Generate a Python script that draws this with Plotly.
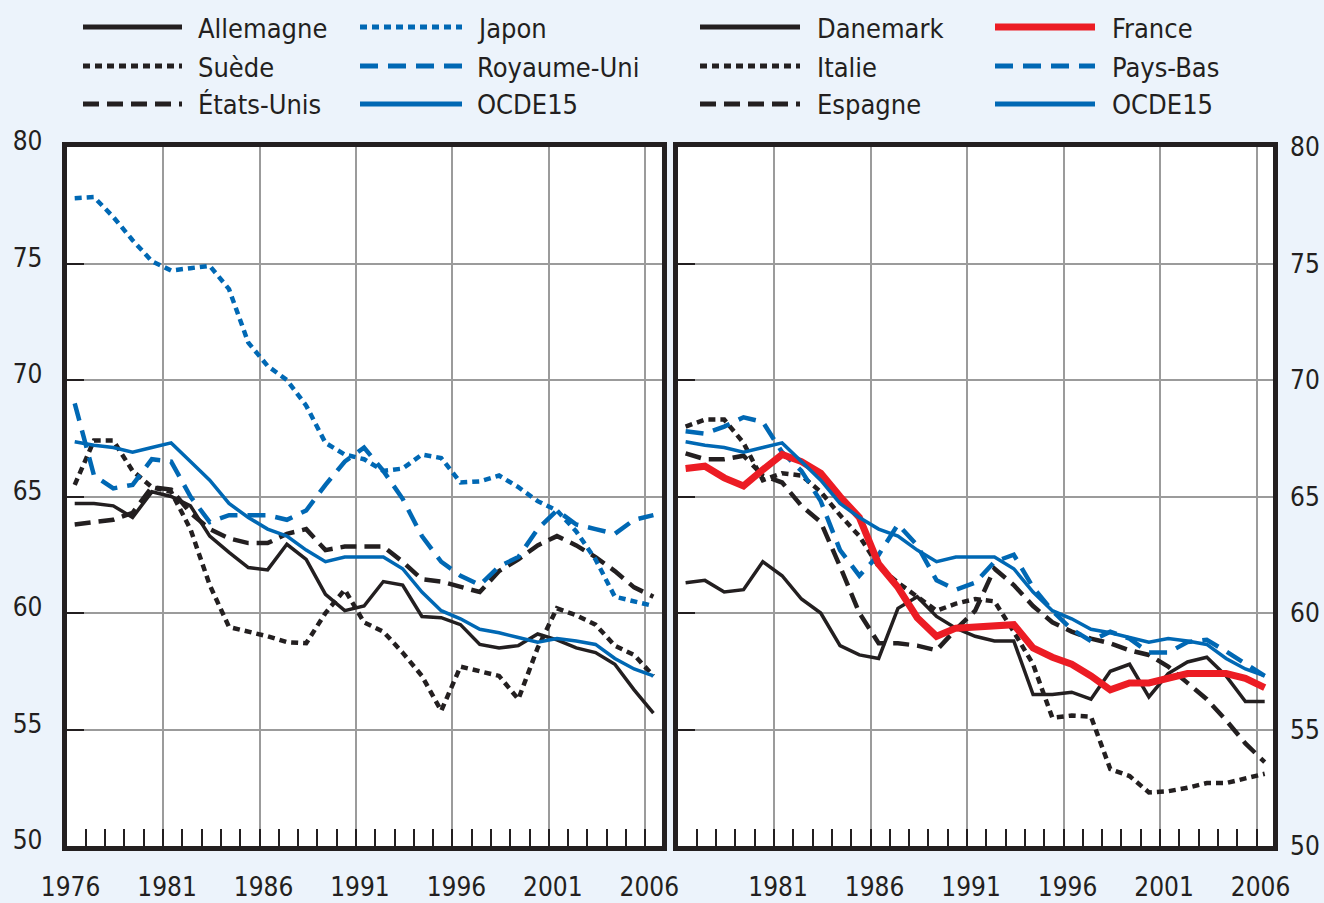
import numpy as np
import plotly.graph_objects as go

# années 1976-2006
years = np.arange(1976, 2007)
tick_years = [1976, 1981, 1986, 1991, 1996, 2001, 2006]

# panneau gauche
allemagne = [64.7, 64.7, 64.6, 64.1, 65.2, 65.0, 64.6, 63.3, 62.6, 61.95, 61.85, 62.95, 62.3, 60.8, 60.1, 60.3,
             61.35, 61.2, 59.85, 59.8, 59.5, 58.65, 58.5, 58.6, 59.1, 58.85, 58.5, 58.3, 57.8, 56.7, 55.7]
suede = [65.5, 67.4, 67.4, 66.1, 65.4, 65.2, 63.6, 61.2, 59.4, 59.2, 59.0, 58.75, 58.7, 60.0, 61.0, 59.6,
         59.2, 58.3, 57.3, 55.8, 57.7, 57.5, 57.3, 56.3, 58.5, 60.2, 59.9, 59.5, 58.6, 58.2, 57.3]
etats_unis = [63.8, 63.9, 64.0, 64.3, 65.4, 65.3, 64.3, 63.6, 63.2, 63.0, 63.0, 63.4, 63.6, 62.7, 62.85, 62.85,
              62.85, 62.2, 61.45, 61.35, 61.1, 60.9, 61.8, 62.3, 62.9, 63.3, 62.9, 62.4, 61.8, 61.1, 60.7]
japon = [77.8, 77.85, 77.0, 76.0, 75.1, 74.7, 74.8, 74.9, 73.9, 71.6, 70.6, 70.0, 68.9, 67.3, 66.8, 66.6,
         66.1, 66.2, 66.8, 66.65, 65.6, 65.65, 65.9, 65.4, 64.8, 64.4, 63.5, 62.3, 60.7, 60.5, 60.3]
royaume_uni = [69.0, 65.9, 65.35, 65.5, 66.6, 66.5, 65.0, 63.9, 64.2, 64.2, 64.2, 64.0, 64.4, 65.5, 66.5, 67.1,
               66.1, 64.9, 63.3, 62.2, 61.6, 61.2, 62.0, 62.4, 63.6, 64.4, 63.8, 63.6, 63.4, 64.0, 64.2]
ocde15 = [67.35, 67.2, 67.1, 66.9, 67.1, 67.3, 66.5, 65.7, 64.7, 64.1, 63.6, 63.3, 62.7, 62.2, 62.4, 62.4,
          62.4, 61.9, 60.9, 60.1, 59.75, 59.3, 59.15, 58.95, 58.75, 58.9, 58.8, 58.65, 58.05, 57.6, 57.3]

# panneau droit
danemark = [61.3, 61.4, 60.9, 61.0, 62.2, 61.6, 60.6, 60.0, 58.6, 58.2, 58.05, 60.2, 60.7, 59.85, 59.35, 59.0,
            58.8, 58.8, 56.5, 56.5, 56.6, 56.3, 57.5, 57.8, 56.4, 57.4, 57.9, 58.1, 57.3, 56.2, 56.2]
italie = [68.0, 68.3, 68.3, 67.3, 65.7, 66.0, 65.9, 65.2, 64.2, 63.3, 62.0, 61.3, 60.7, 60.1, 60.4, 60.6,
          60.5, 59.2, 57.8, 55.5, 55.6, 55.55, 53.3, 53.0, 52.3, 52.35, 52.5, 52.7, 52.7, 52.9, 53.1]
espagne = [66.85, 66.6, 66.6, 66.75, 65.9, 65.6, 64.6, 63.9, 62.0, 60.0, 58.7, 58.7, 58.6, 58.4, 59.3, 60.1,
           61.9, 61.2, 60.3, 59.6, 59.2, 58.9, 58.7, 58.4, 58.2, 57.7, 57.0, 56.3, 55.4, 54.4, 53.6]
france = [66.2, 66.3, 65.8, 65.45, 66.15, 66.8, 66.5, 66.0, 65.0, 64.1, 62.1, 61.1, 59.8, 59.0, 59.35, 59.4,
          59.4, 59.5, 58.5, 58.1, 57.8, 57.3, 56.7, 57.0, 57.0, 57.2, 57.4, 57.4, 57.4, 57.2, 56.8]
pays_bas = [67.8, 67.7, 68.0, 68.4, 68.2, 66.9, 66.1, 64.8, 62.7, 61.6, 62.5, 63.8, 62.9, 61.4, 61.0, 61.3,
            62.2, 62.5, 61.1, 60.1, 59.3, 58.8, 59.2, 58.9, 58.3, 58.3, 58.75, 58.85, 58.35, 57.8, 57.3]

BLACK = "#231F20"
BLUE = "#0068B4"
RED = "#EC1C24"
FONT = "Liberation Sans Narrow, Arial Narrow, DejaVu Sans Condensed, sans-serif"
FS = 26
W, H = 1324, 903

DOT = "7px,5px"
LDASH = "16px,8px"
BDASH = "18px,10px"

# valeurs annuelles placées en milieu d'année
xm = years + 0.42

left = [("Allemagne", allemagne, BLACK, "solid", 3.5),
        ("Suède", suede, BLACK, DOT, 4.5),
        ("États-Unis", etats_unis, BLACK, LDASH, 4.5),
        ("Japon", japon, BLUE, DOT, 4.5),
        ("Royaume-Uni", royaume_uni, BLUE, BDASH, 4.5),
        ("OCDE15", ocde15, BLUE, "solid", 3.5)]
right = [("Danemark", danemark, BLACK, "solid", 3.5),
         ("Italie", italie, BLACK, DOT, 4.5),
         ("Espagne", espagne, BLACK, LDASH, 4.5),
         ("Pays-Bas", pays_bas, BLUE, BDASH, 4.5),
         ("OCDE15", ocde15, BLUE, "solid", 3.5),
         ("France", france, RED, "solid", 7)]

fig = go.Figure()
for name, vals, col, dash, w in left:
    fig.add_trace(go.Scatter(x=xm, y=vals, name=name, mode="lines",
                             line=dict(color=col, dash=dash, width=w),
                             xaxis="x", yaxis="y"))
for name, vals, col, dash, w in right:
    # l'OCDE15 porte l'axe des valeurs de droite
    ya = "y3" if name == "OCDE15" else "y2"
    fig.add_trace(go.Scatter(x=xm, y=vals, name=name, mode="lines",
                             line=dict(color=col, dash=dash, width=w),
                             xaxis="x2", yaxis=ya))

# légende dessinée à la main (traits longs comme dans l'original)
leg_rows = [27, 66, 104]
leg_cols = [(83, 182, 196, left[0:3]), (360, 462, 475, left[3:6]),
            (700, 800, 815, right[0:3]), (995, 1095, 1110, [right[5], right[3], right[4]])]
shapes = []
annotations = []
for x0, x1, xt, items in leg_cols:
    for yy, (name, vals, col, dash, w) in zip(leg_rows, items):
        lw = 7 if col == RED else 5
        shapes.append(dict(type="line", xref="paper", yref="paper",
                           x0=x0 / W, x1=x1 / W, y0=1 - yy / H, y1=1 - yy / H,
                           line=dict(color=col, width=lw, dash=dash)))
        annotations.append(dict(text=name, x=xt / W, y=1 - (yy + 1) / H, xref="paper", yref="paper",
                                xanchor="left", yanchor="middle", showarrow=False,
                                font=dict(family=FONT, size=FS + 1, color=BLACK)))

ydom = [1 - 846 / H, 1 - 147 / H]
common_x = dict(range=[1976, 2006.85], showgrid=True, gridcolor="#9b9b9b", gridwidth=1.5,
                ticks="inside", ticklen=17, tickwidth=1.5, tickcolor=BLACK,
                minor=dict(dtick=1, tick0=1976, ticks="inside", ticklen=17, tickwidth=1.5,
                           tickcolor=BLACK, showgrid=False),
                showline=True, linewidth=5, linecolor=BLACK, mirror=True, zeroline=False,
                tickfont=dict(family=FONT, size=FS, color=BLACK), ticklabelstandoff=14,
                ticklabelshift=4, automargin=False)
common_y = dict(range=[50, 80], dtick=5, tick0=50, showgrid=True, gridcolor="#9b9b9b", gridwidth=1.5,
                ticks="inside", ticklen=17, tickwidth=1.5, tickcolor=BLACK,
                showline=True, linewidth=5, linecolor=BLACK, mirror=True, zeroline=False,
                tickfont=dict(family=FONT, size=FS, color=BLACK), domain=ydom, automargin=False)

fig.update_layout(
    width=W, height=H,
    margin=dict(l=0, r=0, t=0, b=0, pad=0),
    paper_bgcolor="#ECF3FB",
    plot_bgcolor="white",
    showlegend=False,
    xaxis=dict(common_x, domain=[66.6 / W, 661.7 / W], anchor="y",
               tickvals=tick_years, ticktext=[str(t) for t in tick_years]),
    yaxis=dict(common_y, anchor="x", ticklabelstandoff=14, ticklabelshift=-6),
    xaxis2=dict(common_x, domain=[677.5 / W, 1273 / W], anchor="y2",
                tickvals=tick_years[1:], ticktext=[str(t) for t in tick_years[1:]]),
    yaxis2=dict(common_y, anchor="x2", showticklabels=False),
    yaxis3=dict(range=[50, 80], dtick=5, tick0=50, overlaying="y2", side="right", anchor="x2",
                showgrid=False, zeroline=False, ticks="", showline=False, automargin=False,
                tickfont=dict(family=FONT, size=FS, color=BLACK), ticklabelstandoff=16),
    shapes=shapes,
    annotations=annotations,
)

fig.write_html("out.html", config={"displayModeBar": False},
               post_script="document.body.style.margin='0';")
